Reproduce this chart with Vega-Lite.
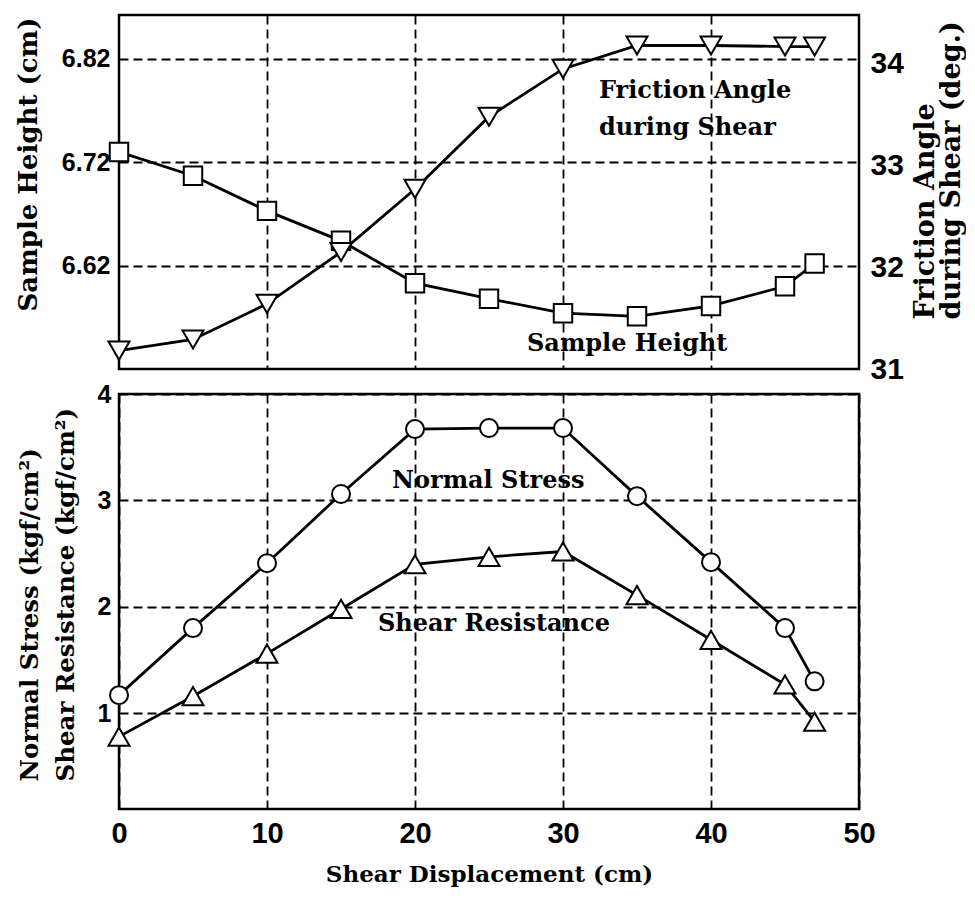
{
  "$schema": "https://vega.github.io/schema/vega-lite/v6.json",
  "background": "white",
  "padding": {"left": 14, "top": 13, "right": 0, "bottom": 5},
  "datasets": {
    "top": [
      {"x": 0, "h": 6.730, "phi": 31.18},
      {"x": 5, "h": 6.707, "phi": 31.29},
      {"x": 10, "h": 6.673, "phi": 31.64},
      {"x": 15, "h": 6.644, "phi": 32.15},
      {"x": 20, "h": 6.603, "phi": 32.77},
      {"x": 25, "h": 6.588, "phi": 33.48},
      {"x": 30, "h": 6.574, "phi": 33.95},
      {"x": 35, "h": 6.571, "phi": 34.18},
      {"x": 40, "h": 6.581, "phi": 34.18},
      {"x": 45, "h": 6.600, "phi": 34.17},
      {"x": 47, "h": 6.622, "phi": 34.17}
    ],
    "bottom": [
      {"x": 0, "ns": 1.17, "sr": 0.78},
      {"x": 5, "ns": 1.80, "sr": 1.16},
      {"x": 10, "ns": 2.41, "sr": 1.56},
      {"x": 15, "ns": 3.06, "sr": 1.98},
      {"x": 20, "ns": 3.67, "sr": 2.40},
      {"x": 25, "ns": 3.68, "sr": 2.47},
      {"x": 30, "ns": 3.68, "sr": 2.52},
      {"x": 35, "ns": 3.04, "sr": 2.11},
      {"x": 40, "ns": 2.42, "sr": 1.69},
      {"x": 45, "ns": 1.80, "sr": 1.27},
      {"x": 47, "ns": 1.30, "sr": 0.92}
    ],
    "topText": [
      {"x": 32.43, "y": 6.789, "label": "Friction Angle"},
      {"x": 32.43, "y": 6.753, "label": "during Shear"},
      {"x": 27.57, "y": 6.5446, "label": "Sample Height"}
    ],
    "bottomText": [
      {"x": 18.45, "y": 3.18, "label": "Normal Stress"},
      {"x": 17.5, "y": 1.84, "label": "Shear Resistance"}
    ]
  },
  "spacing": 25,
  "bounds": "flush",
  "vconcat": [
    {
      "width": 740,
      "height": 354,
      "layer": [
        {
          "data": {"name": "top"},
          "encoding": {
            "x": {"field": "x", "type": "quantitative", "scale": {"domain": [0, 50], "nice": false},
                  "axis": {"values": [10, 20, 30, 40], "labels": false, "title": null, "grid": true}},
            "y": {"field": "h", "type": "quantitative", "scale": {"domain": [6.52, 6.8625], "zero": false, "nice": false},
                  "axis": {"values": [6.62, 6.72, 6.82], "format": ".2f", "labelFontSize": 25, "labelPadding": 9,
                           "title": "Sample Height (cm)", "titleFontSize": 26, "titleAngle": 270, "titleY": 149,
                           "titleAlign": "center", "titlePadding": 20, "grid": true}}
          },
          "layer": [
            {"mark": {"type": "line", "color": "black", "strokeWidth": 2.8}},
            {"mark": {"type": "point", "shape": "square", "size": 340, "filled": true, "fill": "white", "stroke": "black", "strokeWidth": 2, "opacity": 1}}
          ]
        },
        {
          "data": {"name": "top"},
          "encoding": {
            "x": {"field": "x", "type": "quantitative", "scale": {"domain": [0, 50], "nice": false}},
            "y": {"field": "phi", "type": "quantitative", "scale": {"domain": [31, 34.48], "zero": false, "nice": false},
                  "axis": {"orient": "right", "values": [31, 32, 33, 34], "format": "d", "labelFontSize": 30, "labelPadding": 11,
                           "title": ["Friction Angle", "during Shear (deg.)"], "titleFontSize": 27, "titleAngle": 270,
                           "titleAlign": "left", "titleBaseline": "top", "titleX": 53, "titleY": 304, "titleLineHeight": 26,
                           "grid": false}}
          },
          "layer": [
            {"mark": {"type": "line", "color": "black", "strokeWidth": 2.8}},
            {"mark": {"type": "point", "shape": "triangle-down", "size": 440, "filled": true, "fill": "white", "stroke": "black", "strokeWidth": 2, "opacity": 1}}
          ]
        },
        {
          "data": {"name": "topText"},
          "mark": {"type": "text", "align": "left", "baseline": "middle"},
          "encoding": {
            "x": {"field": "x", "type": "quantitative", "scale": {"domain": [0, 50], "nice": false}},
            "y": {"field": "y", "type": "quantitative", "scale": {"domain": [6.52, 6.8625], "zero": false, "nice": false}, "axis": null},
            "text": {"field": "label"}
          }
        }
      ],
      "resolve": {"scale": {"y": "independent"}}
    },
    {
      "width": 740,
      "height": 415,
      "layer": [
        {
          "data": {"name": "bottom"},
          "encoding": {
            "x": {"field": "x", "type": "quantitative", "scale": {"domain": [0, 50], "nice": false},
                  "axis": {"values": [0, 10, 20, 30, 40, 50], "format": "d", "labelFontSize": 29, "labelPadding": 10,
                           "labelFlush": false, "title": "Shear Displacement (cm)", "titleFontSize": 23, "titlePadding": 15, "grid": true}},
            "y": {"field": "ns", "type": "quantitative", "scale": {"domain": [0.1, 4], "zero": false, "nice": false},
                  "axis": {"values": [1, 2, 3, 4], "format": "d", "labelFontSize": 25, "labelPadding": 8,
                           "title": ["Normal Stress (kgf/cm²)", "Shear Resistance (kgf/cm²)"], "titleFontSize": 24.5,
                           "titleAngle": 270, "titleAlign": "left", "titleY": 387, "titleLineHeight": 36,
                           "titlePadding": 19, "grid": true}}
          },
          "layer": [
            {"mark": {"type": "line", "color": "black", "strokeWidth": 2.8}},
            {"mark": {"type": "point", "shape": "circle", "size": 324, "filled": true, "fill": "white", "stroke": "black", "strokeWidth": 2, "opacity": 1}}
          ]
        },
        {
          "data": {"name": "bottom"},
          "encoding": {
            "x": {"field": "x", "type": "quantitative", "scale": {"domain": [0, 50], "nice": false}},
            "y": {"field": "sr", "type": "quantitative"}
          },
          "layer": [
            {"mark": {"type": "line", "color": "black", "strokeWidth": 2.8}},
            {"mark": {"type": "point", "shape": "triangle-up", "size": 440, "filled": true, "fill": "white", "stroke": "black", "strokeWidth": 2, "opacity": 1}}
          ]
        },
        {
          "data": {"name": "bottomText"},
          "mark": {"type": "text", "align": "left", "baseline": "middle"},
          "encoding": {
            "x": {"field": "x", "type": "quantitative"},
            "y": {"field": "y", "type": "quantitative"},
            "text": {"field": "label"}
          }
        }
      ]
    }
  ],
  "config": {
    "view": {"stroke": "black", "strokeWidth": 2.5},
    "axis": {
      "labelFont": "Liberation Sans", "labelFontWeight": "bold", "labelColor": "black",
      "titleFont": "DejaVu Serif", "titleFontWeight": "bold", "titleColor": "black",
      "gridColor": "black", "gridDash": [9, 5], "gridWidth": 1.8, "gridOpacity": 1,
      "domain": false, "ticks": false
    },
    "text": {"font": "DejaVu Serif", "fontWeight": "bold", "fontSize": 24, "color": "black"}
  }
}
